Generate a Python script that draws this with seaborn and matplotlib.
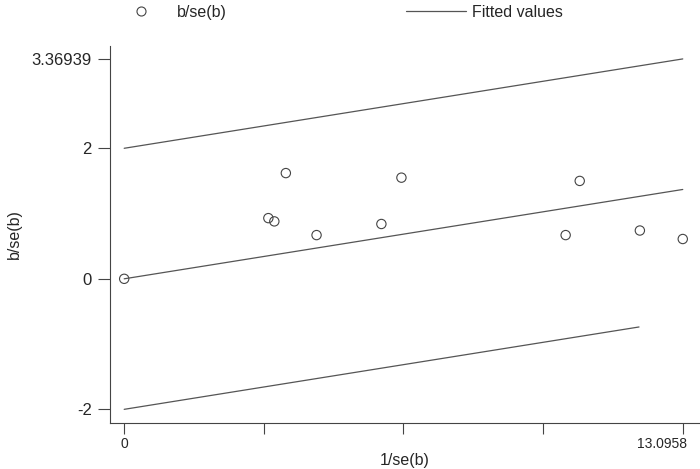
import numpy as np
import pandas as pd
import seaborn as sns
import matplotlib.pyplot as plt
import matplotlib.transforms as mtransforms
from matplotlib.lines import Line2D

# studies: precision (1/se) and standardised effect (b/se)
inv_se = [0, 3.38, 3.52, 3.79, 4.51, 6.03, 6.50, 10.35, 10.68, 12.09, 13.0958]
z_score = [0, 0.93, 0.88, 1.62, 0.67, 0.84, 1.55, 0.67, 1.50, 0.74, 0.61]

# fitted line and +/-2 bands
fit_x = [0, 13.0958]
fit_y = [0, 1.369]
upper_x = [0, 13.0958]
upper_y = [2, 3.36939]
lower_x = [0, 12.07]
lower_y = [-2, -0.738]

xtick_vals = [0, 3.27395, 6.5479, 9.82185, 13.0958]
xtick_labels = ['0', '', '', '', '13.0958']
ytick_vals = [-2, 0, 2, 3.36939]
ytick_labels = ['-2', '0', '2', '3.36939']

sns.set_style('white')
plt.rcParams['font.family'] = ['Liberation Sans', 'DejaVu Sans']

fig = plt.figure(figsize=(7, 4.69), dpi=100)
ax = fig.add_axes([0.157, 0.098, 0.843, 0.804])

df = pd.DataFrame({'x': inv_se, 'y': z_score})
line_col = '#555555'
ax_col = '#444444'

sns.lineplot(x=upper_x, y=upper_y, ax=ax, color=line_col, lw=0.9)
sns.lineplot(x=fit_x, y=fit_y, ax=ax, color=line_col, lw=0.9)
sns.lineplot(x=lower_x, y=lower_y, ax=ax, color=line_col, lw=0.9)
sns.scatterplot(data=df, x='x', y='y', ax=ax, s=45, marker='o',
                facecolor='none', edgecolor=ax_col, linewidth=0.8)

ax.set_xlim(-0.335, 13.50)
ax.set_ylim(-2.21, 3.568)
ax.set_xticks(xtick_vals)
ax.set_xticklabels(xtick_labels)
ax.set_yticks(ytick_vals)
ax.set_yticklabels(ytick_labels)
ax.tick_params(axis='y', direction='out', length=9, width=0.8, color=ax_col,
               labelsize=12, pad=4, left=True)
ax.tick_params(axis='x', direction='out', length=8, width=0.8, color=ax_col,
               labelsize=10, pad=2, bottom=True)

# last x label sits to the left of its tick
last = ax.get_xticklabels()[-1]
last.set_horizontalalignment('right')
last.set_transform(last.get_transform() +
                   mtransforms.ScaledTranslation(0.04, 0, fig.dpi_scale_trans))

for s in ['top', 'right']:
    ax.spines[s].set_visible(False)
for s in ['left', 'bottom']:
    ax.spines[s].set_color(ax_col)
    ax.spines[s].set_linewidth(0.8)

ax.set_xlabel('1/se(b)', fontsize=11.5)
ax.set_ylabel('b/se(b)', fontsize=11.5)
ax.xaxis.set_label_coords(0.5, -0.10)
ax.xaxis.label.set_verticalalignment('center')
ax.yaxis.set_label_coords(-0.161, 0.5)
ax.yaxis.label.set_verticalalignment('center')

handles = [
    Line2D([], [], marker='o', linestyle='none', markerfacecolor='none',
           markeredgecolor=ax_col, markersize=6.5, markeredgewidth=0.8),
    Line2D([], [], color=line_col, lw=0.9),
]
fig.legend(handles, ['b/se(b)', 'Fitted values'], loc='center left',
           bbox_to_anchor=(111 / 700, 1 - 12.5 / 469), ncol=2, frameon=False,
           fontsize=11.5, borderpad=0, borderaxespad=0,
           handlelength=3.75, handletextpad=0.375, columnspacing=11.2)

fig.savefig('out.png', dpi=100)
